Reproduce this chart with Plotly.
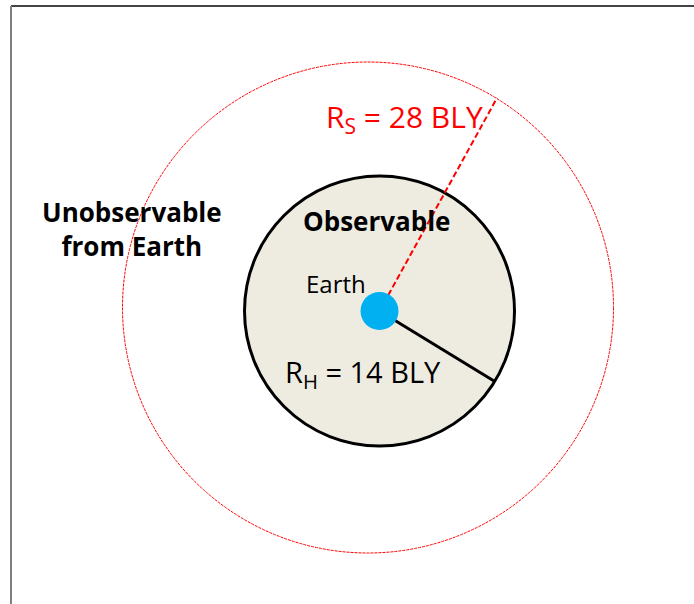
import plotly.graph_objects as go

# ---- diagram data (scene units: Earth at origin, y up) ----
W, H = 694, 604
earth_center = [0.0, 0.0]
earth_size = 38                      # marker diameter
horizon_center = [0.0, 0.0]
horizon_radius = 135                 # drawn radius of R_H circle
sky_center = [-11.5, 3.5]
sky_radius = 245.5                   # drawn radius of R_S circle
rs_line_end = [117.5, 213]
rh_line_end = [114.5, -70]

radius_symbols = ["S", "H"]
radius_values_bly = [28, 14]
region_labels = ["Unobservable<br>from Earth", "Observable", "Earth"]

# view window in scene units
x_range = [-379.5, W - 379.5]
y_range = [311 - H, 311]

FONT = "Open Sans"
RED = "#FF0000"
BLUE = "#00B0F0"
FILL = "#EEECE1"

fig = go.Figure()

# R_S dashed red radius (from Earth to the outer circle)
fig.add_trace(go.Scatter(
    x=[earth_center[0], rs_line_end[0]], y=[earth_center[1], rs_line_end[1]],
    mode="lines", line=dict(color=RED, width=2, dash="6px,3px"),
    hoverinfo="skip", showlegend=False))
# R_H solid black radius
fig.add_trace(go.Scatter(
    x=[earth_center[0], rh_line_end[0]], y=[earth_center[1], rh_line_end[1]],
    mode="lines", line=dict(color="black", width=3),
    hoverinfo="skip", showlegend=False))
# Earth
fig.add_trace(go.Scatter(
    x=[earth_center[0]], y=[earth_center[1]], mode="markers",
    marker=dict(size=earth_size, color=BLUE, line=dict(width=0)),
    hoverinfo="skip", showlegend=False))

shapes = [
    # inner observable circle
    dict(type="circle", xref="x", yref="y", layer="below",
         x0=horizon_center[0] - horizon_radius, x1=horizon_center[0] + horizon_radius,
         y0=horizon_center[1] - horizon_radius, y1=horizon_center[1] + horizon_radius,
         fillcolor=FILL, line=dict(color="black", width=3)),
    # outer red dotted circle
    dict(type="circle", xref="x", yref="y", layer="below",
         x0=sky_center[0] - sky_radius, x1=sky_center[0] + sky_radius,
         y0=sky_center[1] - sky_radius, y1=sky_center[1] + sky_radius,
         line=dict(color=RED, width=1, dash="3px,1px")),
    # frame: top and left edges
    dict(type="line", xref="x", yref="y", x0=-368.5, x1=x_range[1], y0=305, y1=305,
         line=dict(color="#444444", width=2)),
    dict(type="line", xref="x", yref="y", x0=-368.5, x1=-368.5, y0=305, y1=y_range[0],
         line=dict(color="#808080", width=2)),
]

annotations = [
    dict(x=25, y=193,
         text=f"R<sub>{radius_symbols[0]}</sub> = {radius_values_bly[0]} BLY",
         font=dict(family=FONT, size=30, color=RED)),
    dict(x=-17, y=-62,
         text=f"R<sub>{radius_symbols[1]}</sub> = {radius_values_bly[1]} BLY",
         font=dict(family=FONT, size=29, color="black")),
    dict(x=-247.5, y=82, text=f"<b>{region_labels[0]}</b>",
         font=dict(family=FONT, size=26, color="black")),
    dict(x=-3.5, y=90, text=f"<b>{region_labels[1]}</b>",
         font=dict(family=FONT, size=26, color="black")),
    dict(x=-43.5, y=28, text=region_labels[2],
         font=dict(family=FONT, size=24, color="black")),
]
for a in annotations:
    a.update(xref="x", yref="y", showarrow=False, xanchor="center", yanchor="middle")

fig.update_layout(
    width=W, height=H, margin=dict(l=0, r=0, t=0, b=0),
    paper_bgcolor="white", plot_bgcolor="white",
    xaxis=dict(range=x_range, visible=False, fixedrange=True),
    yaxis=dict(range=y_range, visible=False, fixedrange=True,
               scaleanchor="x", scaleratio=1),
    shapes=shapes, annotations=annotations, showlegend=False,
)

fig.write_html("out.html", config=dict(displayModeBar=False, staticPlot=True),
               post_script="document.body.style.margin='0';")
